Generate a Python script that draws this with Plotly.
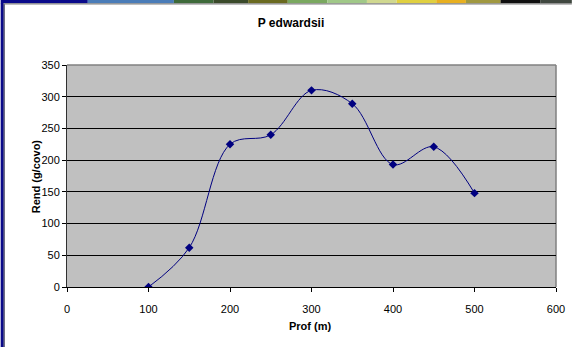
import plotly.graph_objects as go

# Data
prof = [100, 150, 200, 250, 300, 350, 400, 450, 500]
rend = [0, 62, 225, 240, 310, 289, 193, 221, 148]
x_ticks = [0, 100, 200, 300, 400, 500, 600]
y_ticks = [0, 50, 100, 150, 200, 250, 300, 350]

W, H = 577, 347
L, R, T, B = 67, 16, 65, 60
PW, PH = W - L - R, H - T - B


def px(x):
    return (x - L) / PW


def py(y):
    return (H - B - y) / PH


FONT = "Liberation Sans, Arial, sans-serif"

fig = go.Figure()
fig.add_trace(go.Scatter(
    x=prof, y=rend, mode="lines+markers",
    line=dict(color="#000080", width=1, shape="spline", smoothing=1.0),
    marker=dict(symbol="diamond", size=6.5, color="#000080"),
    showlegend=False,
))

shapes = []
# left navy border
shapes.append(dict(type="rect", xref="paper", yref="paper", x0=px(0), x1=px(3), y0=py(H), y1=py(3),
                   fillcolor="#0a0a8a", line_width=0, layer="above"))
shapes.append(dict(type="line", xref="paper", yref="paper", x0=px(3.5), x1=px(3.5), y0=py(H), y1=py(4),
                   line=dict(color="#202040", width=1), layer="above"))
# top strip segments
strip = [
    (0, 88, "#0a0a8a"), (88, 175, "#4a7cb8"), (175, 215, "#3e6a3a"), (215, 250, "#3a4a2a"),
    (250, 290, "#6a6a20"), (290, 330, "#7aa860"), (330, 370, "#a0c888"), (370, 400, "#d0d890"),
    (400, 440, "#e0d040"), (440, 470, "#e8b020"), (470, 505, "#a09840"), (505, 545, "#101010"),
    (545, 577, "#404840"),
]
for a, b, c in strip:
    shapes.append(dict(type="rect", xref="paper", yref="paper", x0=px(a), x1=px(b), y0=py(3.3), y1=py(0),
                       fillcolor=c, line_width=0, layer="above"))
shapes.append(dict(type="line", xref="paper", yref="paper", x0=px(3), x1=px(W), y0=py(3.8), y1=py(3.8),
                   line=dict(color="#808080", width=1.2), layer="above"))
# plot frame top/right gray
shapes.append(dict(type="line", xref="paper", yref="paper", x0=0, x1=1, y0=1, y1=1,
                   line=dict(color="#808080", width=1.5), layer="below"))
shapes.append(dict(type="line", xref="paper", yref="paper", x0=1, x1=1, y0=0, y1=1,
                   line=dict(color="#808080", width=1.5), layer="below"))

annotations = [
    dict(text="<b>Prof (m)</b>", xref="paper", yref="paper", x=px(313), y=py(326),
         xanchor="center", yanchor="middle", showarrow=False, font=dict(size=11)),
    dict(text="<b>Rend (g/covo)</b>", xref="paper", yref="paper", x=px(36), y=py(176),
         xanchor="center", yanchor="middle", showarrow=False, textangle=-90, font=dict(size=11)),
]

fig.update_layout(
    width=W, height=H,
    margin=dict(l=L, r=R, t=T, b=B),
    paper_bgcolor="white",
    plot_bgcolor="#c0c0c0",
    font=dict(family=FONT, size=11, color="#000000"),
    title=dict(text="<b>P edwardsii</b>", x=291 / W, xref="container", xanchor="center",
               y=1 - 23 / H, yref="container", yanchor="middle", font=dict(size=12, family=FONT)),
    shapes=shapes,
    annotations=annotations,
    xaxis=dict(
        range=[0, 600], tickvals=x_ticks, showgrid=False, zeroline=False,
        showline=True, linecolor="#000000", linewidth=1,
        ticks="outside", ticklen=4, tickcolor="#000000",
        ticklabelstandoff=8,
    ),
    yaxis=dict(
        range=[0, 350], tickvals=y_ticks, showgrid=True, gridcolor="#000000", gridwidth=1,
        zeroline=False, showline=True, linecolor="#303030", linewidth=1,
        ticks="outside", ticklen=4, tickcolor="#000000",
    ),
)

fig.write_html("out.html")
